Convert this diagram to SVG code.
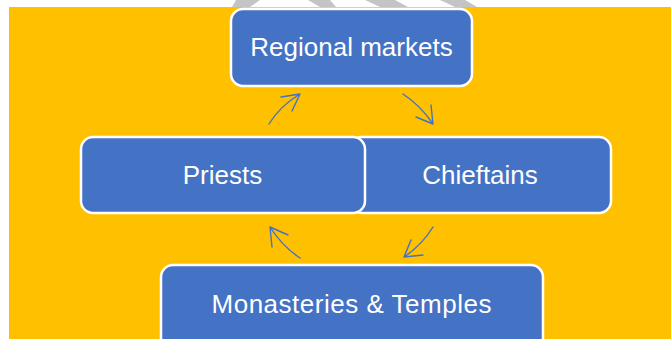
<svg xmlns="http://www.w3.org/2000/svg" width="671" height="339" viewBox="0 0 671 339">
  <style>
    .box { fill: #4472C4; stroke: #FFFFFF; stroke-width: 2.5; }
    .label { fill: #FFFFFF; font-family: "Liberation Sans", Arial, sans-serif; font-size: 26px; text-anchor: middle; }
    .link { fill: none; stroke: #4472C4; stroke-width: 1.4; stroke-linecap: round; stroke-linejoin: round; }
    .mark { fill: #C4C4C4; }
  </style>

  <!-- page -->
  <rect x="0" y="0" width="671" height="339" fill="#FFFFFF"/>
  <g id="watermark">
    <polygon class="mark" points="236,0 260,0 250,7 232,7"/>
    <polygon class="mark" points="308,0 330,0 336,7 320,7"/>
    <polygon class="mark" points="365,0 395,0 408,7 380,7"/>
    <polygon class="mark" points="440,0 465,0 477,7 455,7"/>
  </g>
  <rect x="9" y="7" width="662" height="332" fill="#FFC000"/>

  <!-- cycle arrows -->
  <g id="connectors">
    <path class="link" d="M269,124 Q280,106 300,94 M281,97 L300,94 L292,111"/>
    <path class="link" d="M403,94 Q421,106 433,124 M431,105 L433,124 L416,117"/>
    <path class="link" d="M433,227 Q422,245 404,257 M411,240 L404,257 L423,255"/>
    <path class="link" d="M300,258 Q282,246 270,227 M272,247 L270,227 L288,235"/>
  </g>

  <g id="node-regional-markets">
    <rect class="box" x="231" y="9" width="241" height="77" rx="12"/>
    <text class="label" x="351.5" y="56">Regional markets</text>
  </g>

  <g id="node-chieftains">
    <rect class="box" x="350" y="137" width="261" height="76" rx="12"/>
    <text class="label" x="480" y="184">Chieftains</text>
  </g>

  <g id="node-priests">
    <rect class="box" x="81" y="137" width="284" height="76" rx="12"/>
    <text class="label" x="222.5" y="184">Priests</text>
  </g>

  <g id="node-monasteries-temples">
    <rect class="box" x="161" y="265" width="382" height="90" rx="12"/>
    <text class="label" x="351.5" y="313" textLength="280" lengthAdjust="spacing">Monasteries &amp; Temples</text>
  </g>
</svg>
